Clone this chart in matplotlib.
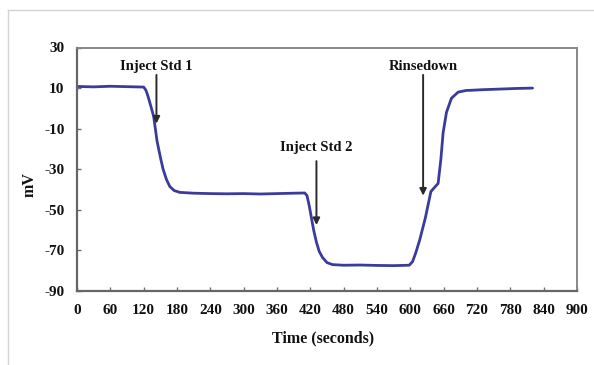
import matplotlib
matplotlib.use("Agg")
import matplotlib.pyplot as plt
from matplotlib.lines import Line2D

# Electrode response trace (time in s, potential in mV)
time_s = [0, 30, 60, 90, 120, 124, 128, 133, 138, 144, 150, 155, 161, 167, 175, 185,
          210, 240, 270, 300, 330, 360, 390, 410, 414, 418, 422, 426, 431, 436, 442,
          450, 460, 480, 510, 540, 570, 598, 604, 610, 617, 627, 637, 645, 650, 655,
          659, 665, 674, 686, 700, 730, 760, 790, 820]
mv = [10.8, 10.6, 10.9, 10.7, 10.5, 9.0, 5.8, 1.0, -4.0, -16.0, -24.0, -30.0, -35.0,
      -38.5, -40.5, -41.4, -41.8, -42.0, -42.1, -42.0, -42.2, -42.0, -41.8, -41.7,
      -43.0, -48.0, -54.0, -60.0, -66.0, -70.5, -73.5, -76.0, -77.0, -77.3, -77.2,
      -77.4, -77.5, -77.3, -75.5, -71.0, -64.7, -54.0, -41.0, -38.5, -37.0, -25.0,
      -12.0, -2.0, 5.0, 8.0, 8.8, 9.2, 9.5, 9.8, 10.0]

x_ticks = list(range(0, 901, 60))
y_ticks = [-90, -70, -50, -30, -10, 10, 30]

# Annotations: label, arrow x, arrow top y, arrow tip y, label y
events = ["Inject Std 1", "Inject Std 2", "Rinsedown"]
event_x = [143, 431, 623]
arrow_top = [16.5, -26.0, 16.5]
arrow_tip = [-7.5, -57.5, -43.0]
label_y = [20.6, -19.4, 20.6]

plt.rcParams['font.family'] = ['Liberation Serif', 'DejaVu Serif']
plt.rcParams['font.weight'] = 'bold'

fig = plt.figure(figsize=(5.94, 3.65), dpi=100)
ax = fig.add_axes([77 / 594, 1 - 291 / 365, 500 / 594, 243.5 / 365])

ax.plot(time_s, mv, color='#3b3b9c', lw=2.0, solid_capstyle='round',
        solid_joinstyle='round')

ax.set_xlim(0, 900)
ax.set_ylim(-90, 30)
ax.set_xticks(x_ticks)
ax.set_yticks(y_ticks)
ax.set_xticklabels([str(v) for v in x_ticks])
ax.set_yticklabels([str(v) for v in y_ticks])
ax.tick_params(direction='in', length=3, width=1, color='#707070',
               labelsize=11, labelcolor='#111111')
ax.tick_params(axis='x', pad=9)
ax.tick_params(axis='y', pad=9)
for lbl in ax.get_xticklabels() + ax.get_yticklabels():
    lbl.set_fontweight('bold')

for side in ['left', 'bottom']:
    ax.spines[side].set_color('#666666')
    ax.spines[side].set_linewidth(1.6)
for side in ['top', 'right']:
    ax.spines[side].set_color('#888888')
    ax.spines[side].set_linewidth(1.4)

fig.text(30 / 594, 1 - 185 / 365, 'mV', rotation=90, ha='center', va='center',
         fontsize=11.5, fontweight='bold', color='#111111')
fig.text(323 / 594, 1 - 338 / 365, 'Time (seconds)', ha='center', va='center',
         fontsize=11.5, fontweight='bold', color='#111111')

for name, ex, top, tip, ly in zip(events, event_x, arrow_top, arrow_tip, label_y):
    ax.annotate('', xy=(ex, tip), xytext=(ex, top),
                arrowprops=dict(arrowstyle='-|>', color='#2a2a2a', lw=1.4,
                                mutation_scale=10, shrinkA=0, shrinkB=0))
    ax.text(ex, ly, name, ha='center', va='center', fontsize=10.5,
            fontweight='bold', color='#111111')

# Light frame along the top and left edges of the figure
fig.add_artist(Line2D([8 / 594, 1.0], [1 - 10 / 365, 1 - 10 / 365],
                      transform=fig.transFigure, color='#d4d4d4', lw=1))
fig.add_artist(Line2D([8 / 594, 8 / 594], [0.0, 1 - 10 / 365],
                      transform=fig.transFigure, color='#d4d4d4', lw=1))

fig.savefig('out.png', dpi=100)
